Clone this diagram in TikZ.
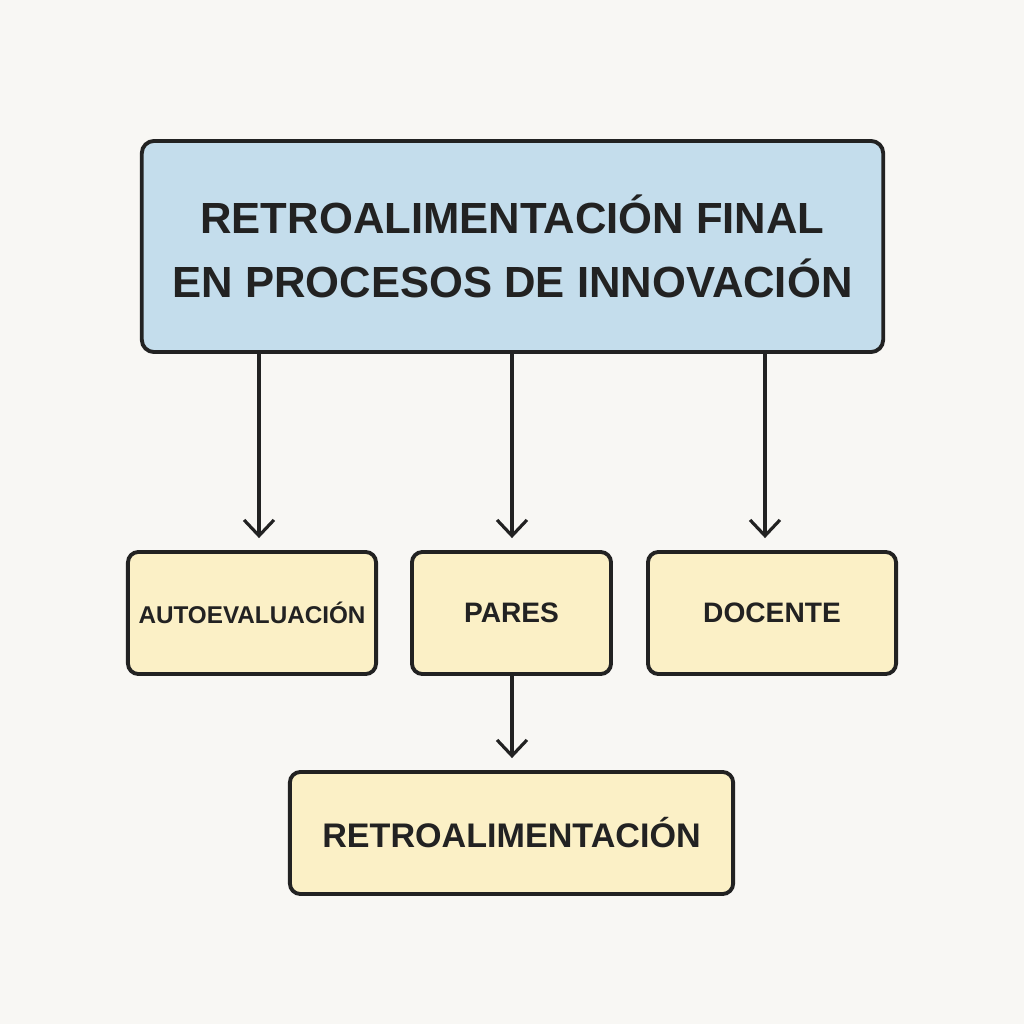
\documentclass[tikz,border=0pt]{standalone}
\usepackage{fontspec}
\setmainfont{Liberation Sans}
\usetikzlibrary{positioning,arrows.meta}
\definecolor{bgpaper}{HTML}{F8F7F4}
\definecolor{titleblue}{HTML}{C4DDEC}
\definecolor{boxyellow}{HTML}{FBF0C6}
\definecolor{inkline}{HTML}{222222}

\begin{document}
\begin{tikzpicture}[x=0.01cm, y=-0.01cm,
    >={Straight Barb[length=4.5pt, width=8.5pt, line width=0.9pt]},
    titlebox/.style={draw=inkline, line width=1.1pt, rounded corners=3.5pt, fill=titleblue,
      minimum width=7.41cm, minimum height=2.11cm, align=center, text=inkline,
      font=\fontsize{12.4}{18.2}\selectfont\bfseries},
    itembox/.style={draw=inkline, line width=1.1pt, rounded corners=3pt, fill=boxyellow,
      minimum height=1.22cm, inner sep=0pt, text=inkline, font=\fontsize{8}{10}\selectfont\bfseries},
    flow/.style={->, draw=inkline, line width=0.9pt, shorten >=3.4pt}]
  \fill[bgpaper] (0,0) rectangle (1024,1024);
  \useasboundingbox (0,0) rectangle (1024,1024);
  % main box
  \node[titlebox] (title) at (512.5,246.5) {RETROALIMENTACIÓN FINAL\\EN PROCESOS DE INNOVACIÓN};
  % three sources of feedback
  \node[itembox, minimum width=2.48cm, font=\fontsize{6.9}{10}\selectfont\bfseries] (auto) at (252,613) {AUTOEVALUACIÓN};
  \node[itembox, minimum width=1.99cm] (pares) at (511.5,613) {PARES};
  \node[itembox, minimum width=2.48cm] (docente) at (772,613) {DOCENTE};
  \node[itembox, minimum width=4.43cm, font=\fontsize{9.7}{12}\selectfont\bfseries] (retro) at (511.5,833) {RETROALIMENTACIÓN};
  % columns of the arrows
  \coordinate (colA) at (259,0);
  \coordinate (colB) at (512,0);
  \coordinate (colC) at (765,0);
  \draw[flow] (title.south -| colA) -- (auto.north -| colA);
  \draw[flow] (title.south -| colB) -- (pares.north -| colB);
  \draw[flow] (title.south -| colC) -- (docente.north -| colC);
  \draw[flow] (pares.south -| colB) -- (retro.north -| colB);
\end{tikzpicture}
\end{document}
